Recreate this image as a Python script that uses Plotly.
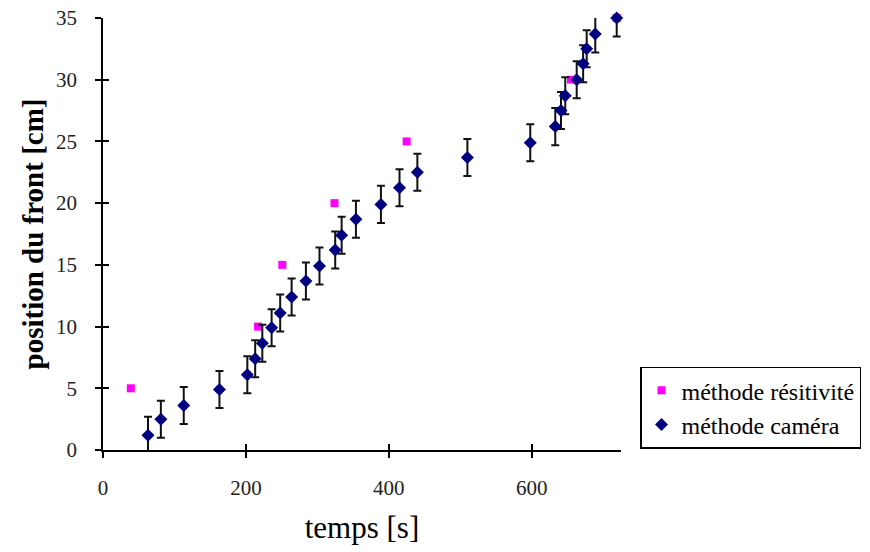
import plotly.graph_objects as go

# Data
res_t = [39, 217, 251, 324, 425, 655, 719]
res_pos = [5, 10, 15, 20, 25, 30, 35]

cam_t = [63, 81, 113, 163, 202, 213, 223, 236, 248, 264, 284, 303, 325, 334,
         354, 389, 415, 440, 510, 598, 633, 641, 647, 663, 672, 677, 689, 719]
cam_pos = [1.2, 2.5, 3.6, 4.9, 6.1, 7.4, 8.65, 9.9, 11.1, 12.4, 13.7, 14.9, 16.2, 17.4,
           18.7, 19.9, 21.25, 22.5, 23.7, 24.9, 26.2, 27.5, 28.7, 30.0, 31.3, 32.5, 33.7, 35.0]
# error bars: upper half of the last one is cut off by the top of the plot
cam_err_up = [1.5] * 27 + [0]
cam_err_down = [1.5] * 28

x_ticks = [0, 200, 400, 600]
y_ticks = [0, 5, 10, 15, 20, 25, 30, 35]

SERIF = "Liberation Serif, Times New Roman, serif"

fig = go.Figure()

fig.add_trace(go.Scatter(
    x=res_t, y=res_pos, mode="markers", name="méthode résitivité",
    marker=dict(symbol="square", size=8, color="#FF00FF"),
    cliponaxis=False,
))
fig.add_trace(go.Scatter(
    x=cam_t, y=cam_pos, mode="markers", name="méthode caméra",
    marker=dict(symbol="diamond", size=10, color="#000080"),
    error_y=dict(type="data", array=cam_err_up, arrayminus=cam_err_down,
                 symmetric=False, visible=True,
                 color="#111111", thickness=2, width=4),
    cliponaxis=False,
))
# helper trace for the overlay axes (inner half of the crossing ticks)
fig.add_trace(go.Scatter(x=[None], y=[None], xaxis="x2", yaxis="y2",
                         mode="markers", showlegend=False, hoverinfo="skip"))

axis_common = dict(showgrid=False, zeroline=False, showline=True, automargin=False,
                   linecolor="black", linewidth=1.5, ticks="outside",
                   ticklen=6, tickwidth=1.5, tickcolor="black",
                   tickfont=dict(family=SERIF, size=21, color="#222222"))

fig.update_layout(
    width=870, height=552,
    paper_bgcolor="white", plot_bgcolor="white",
    margin=dict(l=103, r=249, t=18, b=102, autoexpand=False),
    xaxis=dict(range=[0, 725], tickvals=x_ticks, **axis_common,
               ticklabelstandoff=12,
               title=dict(text="temps [s]", standoff=17,
                          font=dict(family=SERIF, size=31, color="black"))),
    yaxis=dict(range=[0, 35], tickvals=y_ticks, **axis_common,
               ticklabelstandoff=14,
               title=dict(text="<b>position du front [cm]</b>", standoff=4,
                          font=dict(family=SERIF, size=29, color="black"))),
    xaxis2=dict(range=[0, 725], tickvals=x_ticks, overlaying="x", anchor="y",
                side="bottom", showgrid=False, zeroline=False, showline=False,
                automargin=False,
                ticks="inside", ticklen=6, tickwidth=1.5, tickcolor="black",
                showticklabels=False),
    yaxis2=dict(range=[0, 35], tickvals=y_ticks, overlaying="y", anchor="x",
                side="left", showgrid=False, zeroline=False, showline=False,
                automargin=False,
                ticks="inside", ticklen=6, tickwidth=1.5, tickcolor="black",
                showticklabels=False),
    legend=dict(x=1.0367, y=0.193, xanchor="left", yanchor="top",
                bordercolor="black", borderwidth=1.5, bgcolor="white",
                font=dict(family=SERIF, size=24, color="black"),
                itemwidth=30),
    showlegend=True,
)

fig.write_html("out.html", config={"displayModeBar": False},
               post_script="document.body.style.margin='0';")
